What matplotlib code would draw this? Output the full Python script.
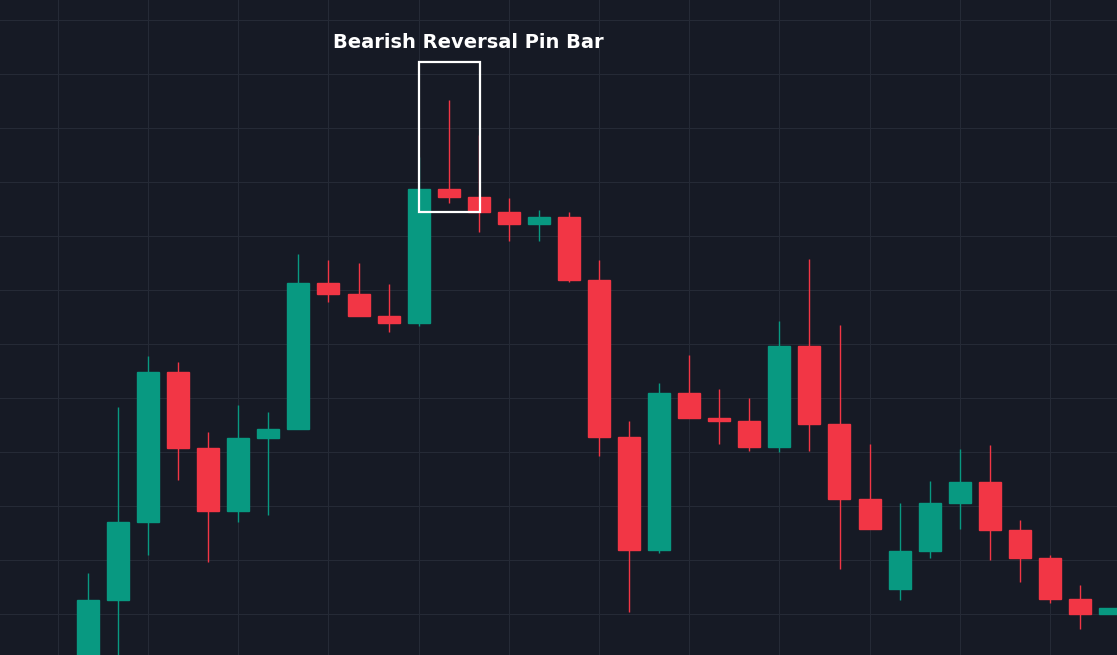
import matplotlib
matplotlib.use("Agg")
import matplotlib.pyplot as plt
from matplotlib.patches import Rectangle

# prices (higher = up)
opens  = [0, 55, 133, 283, 207, 144, 217, 226, 372, 361, 339, 332, 466, 458, 443, 431, 438, 375, 218, 105, 262, 237, 234, 208, 309, 231, 156, 66, 104, 152, 173, 125, 97, 56, 41]
closes = [55, 133, 283, 207, 144, 217, 226, 372, 361, 339, 332, 466, 458, 443, 431, 438, 375, 218, 105, 262, 237, 234, 208, 309, 231, 156, 126, 104, 152, 173, 125, 97, 56, 41, 47]
highs  = [82, 248, 299, 293, 223, 250, 243, 401, 395, 392, 371, 498, 555, 520, 457, 445, 443, 395, 234, 272, 300, 266, 257, 334, 396, 330, 211, 152, 174, 206, 210, 135, 100, 70, 47]
lows   = [-5, 0, 100, 175, 93, 133, 140, 226, 353, 339, 323, 329, 452, 423, 414, 414, 373, 199, 43, 102, 237, 211, 204, 203, 204, 86, 126, 55, 97, 126, 95, 73, 52, 26, 41]

UP, DN = "#089981", "#f23645"
fig = plt.figure(figsize=(11.17, 6.55), dpi=100, facecolor="#161a25")
ax = fig.add_axes([0, 0, 1, 1], facecolor="#161a25")
sp = 30.06
ax.set_xlim(-88/sp, 1029/sp)
ax.set_ylim(0, 655)
for v in range(-1, 36, 3):
    ax.axvline(v, color="#252a36", lw=0.8, zorder=0)
for h in range(41, 655, 54):
    ax.axhline(h, color="#252a36", lw=0.8, zorder=0)
w = 22/sp
for i, (o, c, hi, lo) in enumerate(zip(opens, closes, highs, lows)):
    col = UP if c >= o else DN
    ax.vlines(i, lo, hi, color=col, lw=1, zorder=2)
    ax.add_patch(Rectangle((i - w/2, min(o, c)), w, max(abs(c - o), 1.5), color=col, zorder=3))
ax.add_patch(Rectangle((11.01, 443), 2.03, 150, fill=False, ec="white", lw=1.6, zorder=4))
ax.text(12.64, 613, "Bearish Reversal Pin Bar", color="white", fontsize=14, fontweight="bold",
        ha="center", va="center")
ax.axis("off")
fig.savefig("out.png", dpi=100, facecolor=fig.get_facecolor())
